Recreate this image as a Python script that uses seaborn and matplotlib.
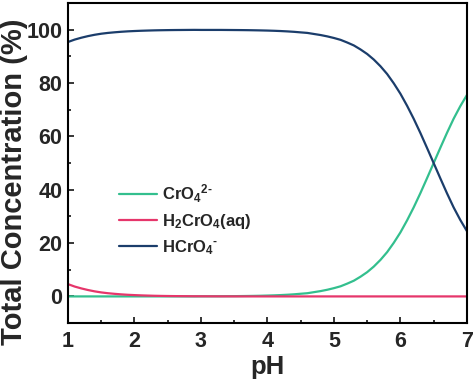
import matplotlib
matplotlib.use("Agg")
import matplotlib.pyplot as plt
import pandas as pd
import seaborn as sns
from matplotlib.ticker import MultipleLocator

# valeurs (pH de 1 à 7, pas de 0.1)
ph = [round(1.0 + 0.1 * i, 1) for i in range(61)]
cro4 = [0.0, 0.0, 0.0, 0.0, 0.0, 0.0, 0.0, 0.0, 0.0, 0.0,
        0.0, 0.0, 0.0, 0.0, 0.0, 0.0, 0.0, 0.0, 0.0, 0.0,
        0.03, 0.04, 0.05, 0.06, 0.08, 0.1, 0.13, 0.16, 0.2, 0.25,
        0.32, 0.4, 0.5, 0.63, 0.79, 1.0, 1.2, 1.6, 2.0, 2.5,
        3.1, 3.8, 4.8, 5.9, 7.4, 9.1, 11.2, 13.7, 16.6, 20.1,
        24.0, 28.5, 33.4, 38.7, 44.3, 50.0, 55.7, 61.3, 66.6, 71.3,
        75.5]
h2cro4 = [4.6, 3.7, 3.0, 2.4, 1.9, 1.5, 1.2, 0.97, 0.77, 0.61,
          0.49, 0.39, 0.31, 0.24, 0.19, 0.15, 0.12, 0.1, 0.08, 0.06,
          0.05, 0.04, 0.03, 0.02, 0.02, 0.01, 0.01, 0.01, 0.0, 0.0,
          0.0, 0.0, 0.0, 0.0, 0.0, 0.0, 0.0, 0.0, 0.0, 0.0,
          0.0, 0.0, 0.0, 0.0, 0.0, 0.0, 0.0, 0.0, 0.0, 0.0,
          0.0, 0.0, 0.0, 0.0, 0.0, 0.0, 0.0, 0.0, 0.0, 0.0,
          0.0]
hcro4 = [95.4, 96.3, 97.0, 97.6, 98.1, 98.5, 98.8, 99.03, 99.23, 99.39,
         99.51, 99.61, 99.69, 99.76, 99.81, 99.85, 99.88, 99.9, 99.92, 99.94,
         99.92, 99.92, 99.92, 99.92, 99.9, 99.88, 99.86, 99.83, 99.79, 99.74,
         99.68, 99.6, 99.5, 99.37, 99.21, 99.0, 98.8, 98.4, 98.0, 97.5,
         96.9, 96.2, 95.2, 94.1, 92.6, 90.9, 88.8, 86.3, 83.4, 79.9,
         76.0, 71.5, 66.6, 61.3, 55.7, 50.0, 44.3, 38.7, 33.4, 28.7,
         24.5]

labels = [r"CrO$_4$$^{2\text{-}}$", r"H$_2$CrO$_4$(aq)", r"HCrO$_4$$^\text{-}$"]
colors = ["#33bf8e", "#e6366b", "#1b3d6b"]

df = pd.concat([
    pd.DataFrame({"pH": ph, "conc": vals, "species": lab})
    for vals, lab in zip([cro4, h2cro4, hcro4], labels)
], ignore_index=True)

sns.set_theme(style="ticks")
plt.rcParams["font.family"] = ["Liberation Sans", "DejaVu Sans"]
plt.rcParams["font.weight"] = "bold"
plt.rcParams["mathtext.fontset"] = "custom"
plt.rcParams["mathtext.rm"] = "Liberation Sans:bold"
plt.rcParams["mathtext.bf"] = "Liberation Sans:bold"
plt.rcParams["mathtext.it"] = "Liberation Sans:bold"
plt.rcParams["mathtext.default"] = "rm"

fig = plt.figure(figsize=(4.74, 3.81), dpi=100)
ax = fig.add_axes([0.1435, 0.152, 0.8415, 0.84])

sns.lineplot(data=df, x="pH", y="conc", hue="species", palette=dict(zip(labels, colors)),
             linewidth=1.6, ax=ax)

ax.set_xlim(1, 7)
ax.set_ylim(-10, 110)
ax.xaxis.set_major_locator(MultipleLocator(1))
ax.xaxis.set_minor_locator(MultipleLocator(0.5))
ax.yaxis.set_major_locator(MultipleLocator(20))
ax.yaxis.set_minor_locator(MultipleLocator(10))
ax.tick_params(which="both", direction="in", width=1.3, labelsize=15.5)
ax.tick_params(axis="y", pad=4)
ax.tick_params(axis="x", pad=6)
ax.tick_params(which="major", length=4)
ax.tick_params(which="minor", length=2.5)
for s in ax.spines.values():
    s.set_linewidth(1.5)
    s.set_color("black")
for t in ax.get_xticklabels() + ax.get_yticklabels():
    t.set_fontweight("bold")

ax.set_xlabel("pH", fontsize=18.5, fontweight="bold", labelpad=1.5)
ax.set_ylabel("")
fig.text(14 / 474, 1 - 182 / 381, "Total Concentration (%)", rotation=90,
         ha="center", va="center", fontsize=21, fontweight="bold")

leg = ax.legend(loc="upper left", bbox_to_anchor=(0.09, 0.485), frameon=False,
                fontsize=12, handlelength=2.3, handletextpad=0.3, labelspacing=0.4)
for t in leg.get_texts():
    t.set_fontweight("bold")

fig.savefig("out.png", dpi=100)
